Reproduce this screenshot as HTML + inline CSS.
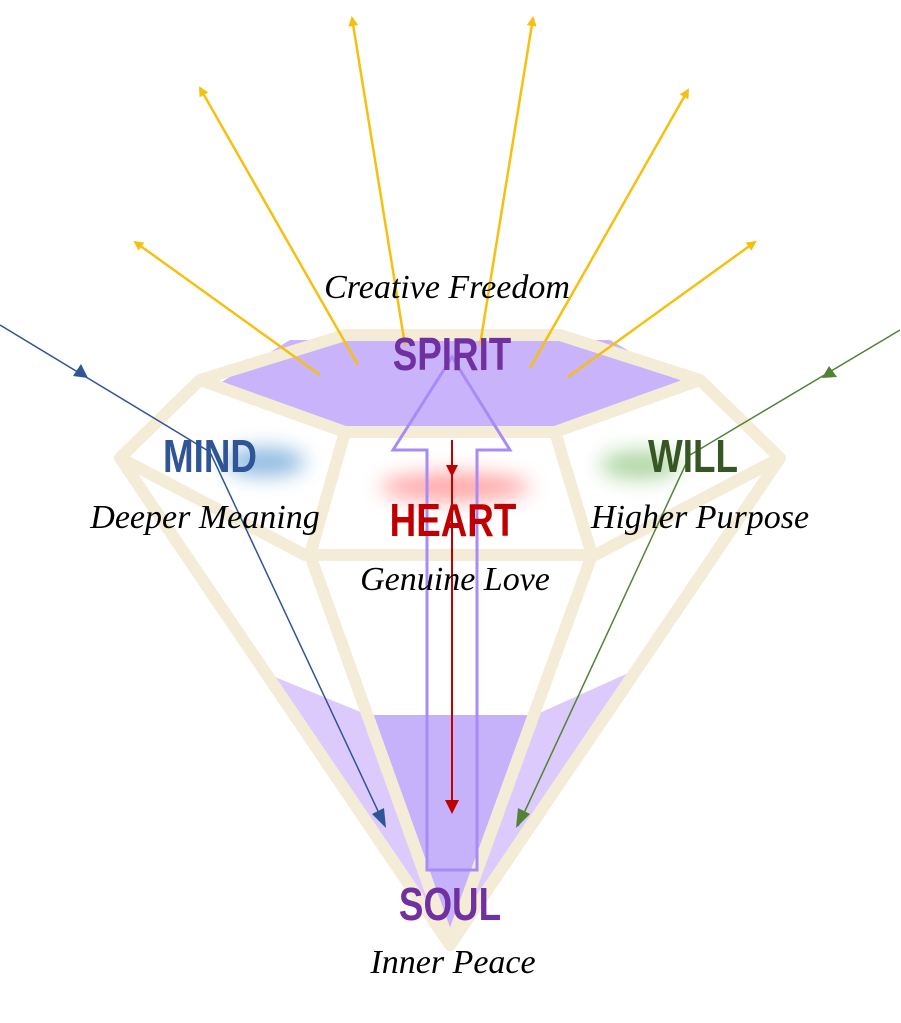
<!DOCTYPE html>
<html><head><meta charset="utf-8"><style>
html,body{margin:0;padding:0;background:#fff;}
svg{display:block}
.c{font-family:"Liberation Serif",serif;font-style:italic;font-size:34px;fill:#000;text-anchor:middle}
.b{font-family:"Liberation Sans",sans-serif;font-weight:bold;font-size:46px;text-anchor:middle}
</style></head><body>
<svg width="901" height="1023" viewBox="0 0 901 1023" xmlns="http://www.w3.org/2000/svg">
<defs>
<filter id="bl" x="-50%" y="-100%" width="200%" height="300%"><feGaussianBlur stdDeviation="10"/></filter>
<marker id="ay" markerWidth="10" markerHeight="10" refX="8" refY="5" orient="auto" markerUnits="userSpaceOnUse"><path d="M0,0L10,5L0,10z" fill="#f5c010"/></marker>
</defs>
<polygon points="220,383 290,340 610,340 685,383 555,430 345,430" fill="#c9b3fb"/>
<polygon points="270,675 368,715 535,715 635,670 450,935" fill="#dccafc"/>
<polygon points="368,715 535,715 450,935" fill="#c6b2fb"/>
<ellipse cx="265" cy="462" rx="40" ry="14" fill="#5b9bd5" opacity="0.7" filter="url(#bl)"/>
<ellipse cx="455" cy="487" rx="75" ry="14" fill="#ff6b6b" opacity="0.6" filter="url(#bl)"/>
<ellipse cx="640" cy="465" rx="40" ry="14" fill="#8bc47a" opacity="0.7" filter="url(#bl)"/>
<g fill="none" stroke="#f5ecd7" stroke-width="12" stroke-linejoin="round">
<polygon points="200,380 345,335 560,335 700,380 780,458 450,945 120,458"/>
<polyline points="200,380 345,432 555,432 700,380"/>
<polyline points="120,458 305,555 595,555 780,458"/>
<line x1="345" y1="432" x2="310" y2="555"/>
<line x1="555" y1="432" x2="592" y2="555"/>
<line x1="310" y1="555" x2="450" y2="945"/>
<line x1="592" y1="555" x2="450" y2="945"/>
</g>
<g stroke="#f5c010" stroke-width="2.5" marker-end="url(#ay)">
<line x1="320" y1="375" x2="135" y2="242"/>
<line x1="358" y1="365" x2="200" y2="88"/>
<line x1="405" y1="345" x2="352" y2="18"/>
<line x1="480" y1="345" x2="533" y2="18"/>
<line x1="530" y1="368" x2="688" y2="90"/>
<line x1="568" y1="377" x2="755" y2="242"/>
</g>
<polygon points="427,870 477,870 477,450 510,450 452,357 393,450 427,450" fill="none" stroke="#a98bf5" stroke-width="3"/>
<polyline points="0,325 210,452 385,826" fill="none" stroke="#2f5597" stroke-width="1.5"/>
<polygon points="386,828 372,814 384,808" fill="#2f5597"/>
<polygon points="88,378 73,376 81,364" fill="#2f5597"/>
<polyline points="900,330 690,455 518,826" fill="none" stroke="#548235" stroke-width="1.5"/>
<polygon points="516,828 518,808 530,814" fill="#548235"/>
<polygon points="822,378 829,366 837,377" fill="#548235"/>
<line x1="452" y1="440" x2="452" y2="812" stroke="#c00000" stroke-width="2"/>
<polygon points="446,465 458,465 452,477" fill="#c00000"/>
<polygon points="445,800 459,800 452,814" fill="#c00000"/>
<text class="c" x="447" y="298">Creative Freedom</text>
<text class="b" x="452" y="370" fill="#7030a0" transform="translate(452,0) scale(0.8,1) translate(-452,0)">SPIRIT</text>
<text class="b" x="210" y="472" fill="#2f5597" transform="translate(210,0) scale(0.8,1) translate(-210,0)">MIND</text>
<text class="b" x="693" y="472" fill="#375623" transform="translate(693,0) scale(0.8,1) translate(-693,0)">WILL</text>
<text class="b" x="453" y="536" fill="#c00000" transform="translate(453,0) scale(0.8,1) translate(-453,0)">HEART</text>
<text class="c" x="205" y="528">Deeper Meaning</text>
<text class="c" x="700" y="528">Higher Purpose</text>
<text class="c" x="455" y="590">Genuine Love</text>
<text class="b" x="450" y="920" fill="#7030a0" transform="translate(450,0) scale(0.8,1) translate(-450,0)">SOUL</text>
<text class="c" x="453" y="973">Inner Peace</text>
</svg>
</body></html>
